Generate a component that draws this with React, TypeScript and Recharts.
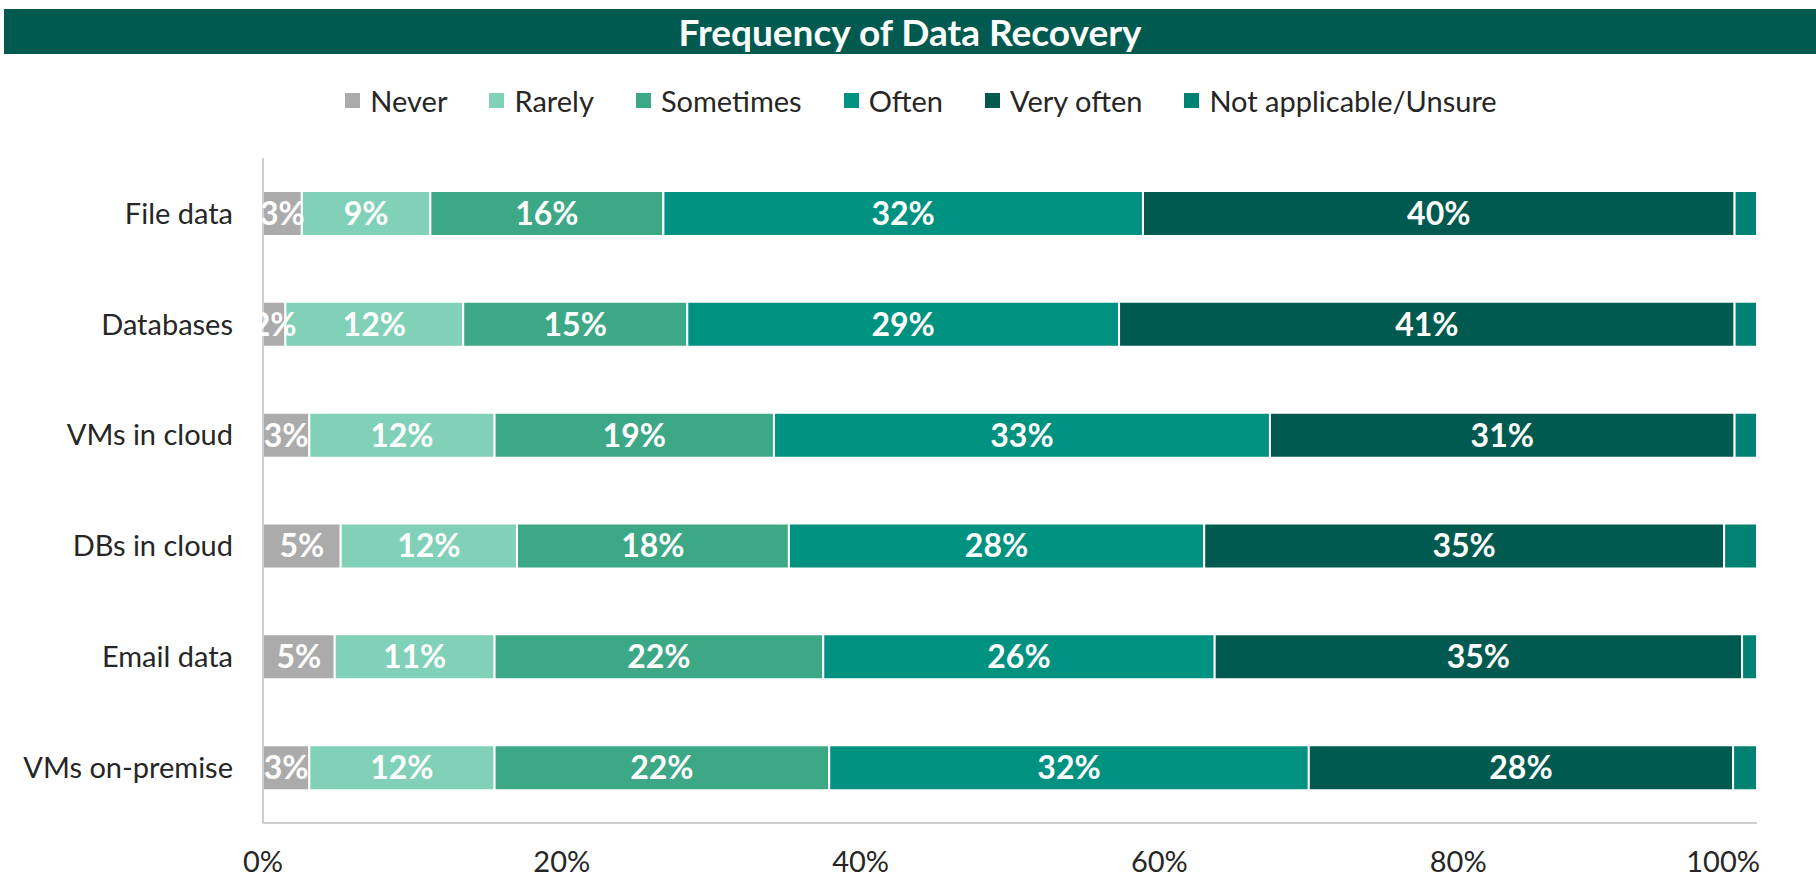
import React from "react"
import { Bar, BarChart, XAxis, YAxis, LabelList } from "recharts"

const categories = ["File data", "Databases", "VMs in cloud", "DBs in cloud", "Email data", "VMs on-premise"]
const never = [2.6, 1.5, 3.1, 5.2, 4.8, 3.1]
const rarely = [8.6, 11.9, 12.4, 11.8, 10.7, 12.4]
const sometimes = [15.6, 15.0, 18.7, 18.2, 22.0, 22.4]
const often = [32.1, 28.9, 33.2, 27.8, 26.2, 32.1]
const veryOften = [39.6, 41.2, 31.1, 34.8, 35.3, 28.4]
const notApplicable = [1.5, 1.5, 1.5, 2.2, 1.0, 1.6]
const xTicks = [0, 20, 40, 60, 80, 100]

const SERIES = [
  { key: "never", name: "Never", color: "#ABABAB", values: never, label: true },
  { key: "rarely", name: "Rarely", color: "#80D1B8", values: rarely, label: true },
  { key: "sometimes", name: "Sometimes", color: "#3CA886", values: sometimes, label: true },
  { key: "often", name: "Often", color: "#009280", values: often, label: true },
  { key: "veryOften", name: "Very often", color: "#005A4F", values: veryOften, label: true },
  { key: "na", name: "Not applicable/Unsure", color: "#008272", values: notApplicable, label: false },
]

const FONT = "Lato, 'Open Sans', sans-serif"
const TEXT = "#262626"

function XTick(props: any) {
  const { x, y, payload } = props
  const last = payload.value === 100
  return (
    <text
      x={last ? x + 3 : x}
      y={y}
      dy="0.71em"
      textAnchor={last ? "end" : "middle"}
      fill={TEXT}
      fontSize={29}
      fontFamily={FONT}
    >
      {`${payload.value}%`}
    </text>
  )
}

export default function App() {
  const data = categories.map((name, i) => {
    const row: Record<string, string | number> = { name }
    SERIES.forEach(s => { row[s.key] = s.values[i] })
    return row
  })

  return (
    <div style={{ position: "absolute", left: 0, top: 0, width: 1816, height: 877, background: "#fff", fontFamily: FONT }}>
      <div style={{
        position: "absolute", left: 4, right: 0, top: 9, height: 45, background: "#005A4F",
        color: "#fff", fontWeight: 700, fontSize: 37, textAlign: "center", lineHeight: "45px",
      }}>
        Frequency of Data Recovery
      </div>
      <div style={{
        position: "absolute", left: 13, top: 82, width: 1816, height: 36,
        display: "flex", justifyContent: "center", alignItems: "center", gap: 42,
        fontSize: 29, color: TEXT,
      }}>
        {SERIES.map(s => (
          <div key={s.key} style={{ display: "flex", alignItems: "center" }}>
            <span style={{ width: 15, height: 15, background: s.color, marginRight: 10, display: "inline-block" }} />
            <span>{s.name}</span>
          </div>
        ))}
      </div>
      <div style={{ position: "absolute", left: 0, top: 0 }}>
        <BarChart
          width={1816}
          height={877}
          data={data}
          layout="vertical"
          margin={{ top: 158, right: 59, bottom: 0, left: 0 }}
        >
          <XAxis
            type="number"
            domain={[0, 100]}
            ticks={xTicks}
            axisLine={{ stroke: "#BFBFBF", strokeWidth: 1.5 }}
            tickLine={false}
            tickSize={0}
            tickMargin={28}
            tick={<XTick />}
            height={54}
          />
          <YAxis
            type="category"
            dataKey="name"
            width={263}
            axisLine={{ stroke: "#BFBFBF", strokeWidth: 1.5 }}
            tickLine={false}
            tickSize={0}
            tickMargin={30}
            tick={{ fill: TEXT, fontSize: 29, fontFamily: FONT }}
          />
          {SERIES.map(s => (
            <Bar
              key={s.key}
              dataKey={s.key}
              name={s.name}
              stackId="a"
              fill={s.color}
              stroke="#fff"
              strokeWidth={2}
              barSize={45}
              isAnimationActive={false}
            >
              {s.label && (
                <LabelList
                  dataKey={s.key}
                  position="center"
                  formatter={(v: number) => `${Math.round(v)}%`}
                  fill="#fff"
                  fontSize={32}
                  fontWeight={700}
                  fontFamily={FONT}
                />
              )}
            </Bar>
          ))}
        </BarChart>
      </div>
    </div>
  )
}
